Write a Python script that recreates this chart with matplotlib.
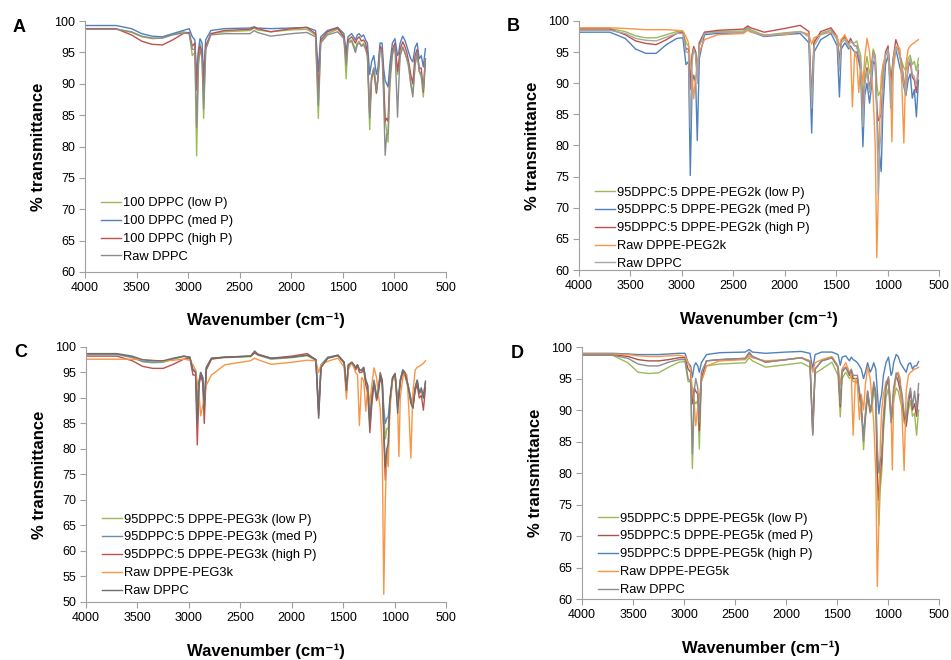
import matplotlib
matplotlib.use("Agg")
import matplotlib.pyplot as plt

plt.rcParams['font.family'] = ['Liberation Sans', 'DejaVu Sans']

# shared wavenumber grid (cm-1), descending
wn = [4000, 3700, 3550, 3450, 3350, 3250, 3150, 3050, 2990, 2960,
      2935, 2918, 2900, 2885, 2865, 2850, 2830, 2780, 2650, 2400,
      2360, 2330, 2200, 2000, 1850, 1765, 1738, 1715, 1650, 1550,
      1490, 1468, 1450, 1415, 1378, 1360, 1342, 1320, 1300, 1280,
      1262, 1240, 1222, 1200, 1175, 1160, 1140, 1120, 1105, 1090,
      1075, 1062, 1045, 1020, 995, 970, 958, 945, 920, 900,
      880, 862, 842, 822, 800, 780, 760, 740, 720, 700]

# ---- panel A: 100 DPPC ----
a_low = [98.8, 98.8, 98.2, 97.5, 97.2, 97.3, 97.9, 98.3, 98.1, 94.5,
         95.0, 78.5, 93.0, 96.5, 94.0, 84.5, 95.5, 98.0, 98.3, 98.5,
         98.9, 98.6, 98.3, 98.6, 98.7, 97.8, 84.5, 96.8, 98.0, 98.7,
         97.5, 90.8, 96.8, 97.0, 95.5, 96.5, 96.8, 96.0, 96.5, 95.8,
         94.5, 82.7, 90.5, 92.0, 88.6, 90.5, 95.5, 95.0, 91.0, 84.0,
         82.5, 80.7, 89.5, 94.5, 95.8, 91.5, 92.5, 94.5, 95.8, 95.0,
         94.0, 92.5, 90.0, 88.5, 93.0, 95.0, 92.0, 91.0, 87.9, 93.5]
a_med = [99.3, 99.3, 98.8, 98.0, 97.6, 97.5, 98.0, 98.5, 98.8, 97.5,
         97.0, 91.0, 95.5, 97.2, 96.5, 91.0, 97.0, 98.5, 98.8, 98.9,
         99.1, 98.9, 98.8, 98.9, 99.0, 98.5, 92.0, 97.5, 98.5, 99.0,
         98.0, 95.0, 97.5, 98.0, 97.0, 97.8, 98.0, 97.5, 97.8, 97.0,
         96.5, 91.5, 93.5, 94.5, 91.5, 92.5, 96.5, 96.5, 92.5, 90.5,
         90.0, 89.5, 93.0, 96.5, 97.2, 94.5, 95.0, 96.5, 97.6, 97.0,
         96.0, 95.0, 94.0, 93.5, 95.8, 96.5, 94.0, 94.5, 92.7, 95.6]
a_high = [98.8, 98.8, 97.8, 96.8, 96.3, 96.2, 97.0, 98.0, 98.2, 96.0,
          96.5, 89.0, 95.0, 96.0, 95.0, 89.0, 96.0, 98.0, 98.5, 98.7,
          99.0, 98.8, 98.3, 98.8, 99.0, 98.0, 89.0, 97.0, 98.3, 98.9,
          97.5, 94.0, 97.0, 97.5, 96.5, 97.2, 97.5, 96.8, 97.0, 96.5,
          95.0, 85.2, 91.0, 92.5, 88.5, 91.0, 96.0, 95.5, 90.0, 84.0,
          84.5, 84.0, 91.0, 95.5, 96.5, 92.0, 93.5, 95.5, 96.7, 96.0,
          95.0, 93.5, 91.5, 90.0, 94.5, 95.5, 92.5, 92.5, 88.7, 94.0]
a_raw = [98.7, 98.7, 98.3, 97.6, 97.3, 97.3, 97.8, 98.1, 98.0, 95.5,
         95.5, 83.0, 93.5, 95.5, 94.0, 86.0, 95.5, 97.8, 98.0, 98.0,
         98.5, 98.2, 97.6, 98.0, 98.2, 97.5, 86.5, 96.5, 97.8, 98.3,
         97.2, 93.0, 96.5, 96.8, 95.0, 96.3, 96.5, 96.0, 96.3, 95.5,
         94.5, 84.5, 91.0, 92.5, 89.0, 91.0, 95.5, 95.0, 88.0, 78.6,
         82.0, 82.0, 91.0, 95.0, 96.0, 84.7, 90.0, 94.5, 95.9, 95.0,
         94.0, 93.0, 90.0, 87.9, 93.0, 95.0, 92.0, 91.5, 89.0, 94.0]

# ---- panel B: 95DPPC:5 DPPE-PEG2k ----
b_low = [98.8, 98.8, 98.3, 97.6, 97.3, 97.3, 97.8, 98.3, 98.3, 96.5,
         96.0, 90.0, 94.5, 95.8, 95.0, 91.0, 96.5, 98.2, 98.3, 98.4,
         99.0, 98.6, 97.7, 98.1, 98.3, 97.8, 88.0, 96.8, 98.0, 98.6,
         97.3, 93.5, 96.8, 97.3, 96.3, 97.0, 96.5, 96.5, 96.8, 95.5,
         94.5, 87.0, 92.0, 94.3, 91.5, 92.5, 95.5, 94.5, 90.0, 88.0,
         88.5, 89.2, 92.0, 94.5, 95.5, 91.0, 92.0, 94.0, 95.8, 95.5,
         94.5, 93.5, 92.5, 92.0, 94.0, 94.5, 93.0, 93.5, 92.0, 94.0]
b_med = [98.2, 98.2, 97.2, 95.5, 94.8, 94.8, 96.2, 97.2, 97.3, 93.0,
         93.5, 75.2, 90.0, 91.3, 90.0, 80.8, 94.0, 97.8, 98.0, 98.1,
         98.8, 98.3, 97.5, 97.8, 98.0, 96.5, 82.0, 95.0, 97.0, 98.0,
         96.0, 87.8, 95.5, 96.5, 95.5, 96.0, 95.5, 95.0, 95.0, 93.5,
         92.0, 79.8, 88.0, 90.0, 86.8, 89.0, 93.5, 93.0, 86.0, 80.0,
         78.0, 75.8, 86.0, 93.0, 94.5, 89.0, 91.0, 93.0, 95.5, 94.0,
         92.5, 91.5, 89.5, 88.0, 90.5, 91.5, 87.6, 89.0, 84.6, 90.5]
b_high = [98.7, 98.7, 97.8, 96.8, 96.4, 96.2, 97.0, 98.0, 98.2, 95.5,
          95.5, 89.0, 94.5, 95.9, 95.0, 91.0, 96.5, 98.2, 98.5, 98.7,
          99.2, 98.9, 98.2, 98.8, 99.3, 98.3, 87.0, 96.5, 98.3, 98.9,
          97.5, 93.0, 97.0, 97.5, 96.5, 97.2, 96.5, 96.0, 96.0, 94.5,
          93.0, 85.0, 90.0, 92.5, 89.0, 91.0, 95.0, 94.0, 86.0, 84.0,
          84.5, 85.0, 90.0, 95.0, 96.0, 90.0, 91.5, 94.0, 97.0, 96.0,
          94.5, 93.0, 90.5, 89.0, 92.5, 93.5, 91.0, 90.5, 88.5, 92.0]
b_peg = [98.9, 98.9, 98.8, 98.7, 98.6, 98.6, 98.6, 98.5, 98.4, 97.5,
         96.5, 93.5, 91.5, 87.5, 91.0, 93.0, 95.0, 97.0, 97.8, 98.0,
         98.5, 98.2, 97.8, 97.8, 98.3, 97.8, 96.3, 97.3, 97.8, 98.2,
         97.5, 96.0, 97.0, 97.8, 96.0, 95.5, 86.2, 95.0, 94.0, 88.5,
         93.0, 90.0, 94.0, 97.2, 95.0, 92.0, 88.0, 80.0, 62.0, 72.0,
         85.0, 91.0, 93.0, 94.5, 95.0, 90.0, 80.6, 92.0, 95.5, 96.0,
         95.5, 90.0, 80.4, 93.0, 95.5, 96.0, 96.3, 96.5, 96.8, 97.0]
b_raw = [98.5, 98.5, 98.0, 97.2, 96.9, 96.8, 97.4, 98.0, 98.0, 95.0,
         95.0, 83.0, 93.5, 95.5, 94.5, 90.0, 96.0, 98.0, 98.2, 98.2,
         98.8, 98.4, 97.6, 98.0, 98.3, 97.5, 86.0, 96.0, 97.8, 98.5,
         97.0, 92.0, 96.5, 97.0, 96.0, 96.8, 96.5, 96.0, 96.0, 94.5,
         93.5, 83.0, 90.0, 92.0, 88.5, 90.5, 95.0, 94.0, 85.0, 72.0,
         80.0, 82.0, 90.0, 94.5, 95.5, 86.0, 90.0, 94.0, 96.0, 95.5,
         94.0, 93.0, 90.0, 88.5, 93.0, 94.0, 91.5, 91.0, 89.5, 93.0]

# ---- panel C: 95DPPC:5 DPPE-PEG3k ----
c_low = [98.5, 98.5, 97.9, 97.1, 96.9, 97.0, 97.6, 98.1, 97.9, 95.3,
         95.3, 88.5, 93.3, 94.8, 93.8, 88.5, 95.8, 97.7, 97.9, 98.1,
         98.9, 98.4, 97.6, 97.9, 98.3, 97.4, 87.5, 96.4, 97.9, 98.3,
         96.9, 91.5, 96.4, 96.9, 95.8, 96.4, 95.4, 95.3, 95.8, 93.3,
         92.3, 85.5, 90.3, 93.3, 90.3, 91.3, 94.3, 93.3, 87.0, 82.0,
         84.0, 84.0, 89.5, 93.8, 94.6, 89.0, 90.5, 93.3, 95.3, 94.8,
         93.3, 91.8, 89.5, 88.3, 91.8, 93.3, 90.8, 91.3, 90.0, 92.8]
c_med = [98.6, 98.6, 98.0, 97.2, 97.0, 97.1, 97.7, 98.2, 98.0, 95.5,
         95.5, 89.5, 93.5, 95.0, 94.0, 89.0, 96.0, 97.8, 98.0, 98.2,
         99.0, 98.5, 97.7, 98.0, 98.4, 97.5, 88.0, 96.5, 98.0, 98.4,
         97.0, 92.0, 96.5, 97.0, 96.0, 96.5, 95.5, 95.5, 96.0, 93.5,
         92.5, 86.0, 90.5, 93.5, 90.5, 91.5, 94.5, 93.5, 88.0, 85.0,
         86.0, 86.3, 90.0, 94.0, 94.8, 89.5, 91.0, 93.5, 95.5, 95.0,
         93.5, 92.0, 90.0, 88.5, 92.0, 93.5, 91.0, 91.5, 90.5, 93.0]
c_high = [98.2, 98.2, 97.3, 96.2, 95.8, 95.8, 96.6, 97.6, 97.8, 94.5,
          94.5, 80.8, 92.5, 94.5, 93.0, 85.0, 95.5, 97.6, 98.0, 98.2,
          98.8, 98.5, 97.8, 98.2, 98.7, 97.5, 86.5, 96.0, 97.8, 98.3,
          96.8, 91.0, 96.0, 96.8, 95.5, 96.3, 95.0, 95.0, 95.5, 92.5,
          91.0, 83.2, 88.5, 93.0, 89.5, 90.5, 94.0, 92.5, 82.0, 73.9,
          78.0, 80.0, 89.0, 93.5, 94.5, 88.5, 90.0, 93.0, 95.0, 94.5,
          93.0, 91.5, 89.5, 88.0, 91.5, 92.5, 90.0, 90.5, 87.6, 92.0]
c_peg = [97.6, 97.6, 97.6, 97.5, 97.4, 97.2, 97.4, 97.6, 97.4, 96.5,
         95.5, 93.0, 90.5, 86.5, 88.5, 90.0, 92.5, 94.5, 96.5, 97.3,
         97.8, 97.5, 96.6, 97.0, 97.4, 97.3, 95.0, 96.5, 97.2, 97.8,
         96.0, 89.8, 95.5, 97.0, 95.0, 94.5, 84.6, 94.0, 93.5, 87.4,
         92.0, 89.0, 92.5, 95.9, 94.0, 91.0, 88.0, 80.0, 51.5, 70.0,
         80.0, 76.5, 88.0, 93.5, 94.0, 88.0, 78.5, 90.0, 94.0, 95.0,
         94.5, 88.0, 78.2, 91.0, 95.5, 96.0, 96.2, 96.5, 96.8, 97.3]
c_raw = [98.7, 98.7, 98.2, 97.5, 97.3, 97.3, 97.8, 98.2, 98.0, 95.5,
         95.0, 85.0, 93.0, 95.0, 94.0, 88.0, 96.0, 97.8, 98.0, 98.2,
         99.2, 98.6, 97.8, 98.0, 98.4, 97.5, 86.0, 96.0, 97.8, 98.4,
         97.0, 91.5, 96.5, 97.0, 96.0, 96.5, 95.5, 95.5, 96.0, 93.5,
         92.5, 84.5, 89.5, 93.0, 90.0, 91.0, 95.0, 93.5, 84.0, 76.5,
         80.0, 81.0, 89.5, 94.0, 94.8, 87.0, 90.5, 93.5, 95.5, 95.0,
         93.5, 91.5, 89.0, 88.0, 92.0, 93.5, 91.0, 92.0, 90.0, 93.3]

# ---- panel D: 95DPPC:5 DPPE-PEG5k ----
d_low = [98.7, 98.7, 97.5, 96.0, 95.8, 95.9, 96.8, 97.6, 97.7, 94.5,
         94.5, 80.7, 91.5, 91.0, 91.5, 83.8, 94.5, 97.0, 97.3, 97.5,
         98.3, 97.8, 96.8, 97.2, 97.5, 96.8, 87.0, 95.8, 96.5, 97.6,
         95.5, 88.9, 95.0, 96.0, 95.0, 95.5, 94.5, 94.5, 94.5, 92.5,
         90.0, 83.7, 88.5, 92.0, 89.5, 90.0, 93.0, 91.5, 78.0, 71.7,
         77.8, 80.0, 86.5, 92.0, 93.5, 88.0, 89.0, 91.5, 93.5, 93.0,
         91.5, 90.5, 88.0, 87.5, 90.0, 91.5, 89.0, 89.5, 86.0, 90.0]
d_med = [98.8, 98.8, 98.5, 98.0, 97.8, 97.8, 98.0, 98.3, 98.3, 96.5,
         96.0, 91.0, 93.5, 93.0, 92.5, 86.7, 95.0, 97.8, 98.0, 98.2,
         99.0, 98.5, 97.6, 98.0, 98.3, 97.8, 86.2, 96.5, 97.8, 98.3,
         96.8, 90.5, 96.0, 96.8, 95.5, 96.3, 95.0, 95.0, 95.0, 92.5,
         90.0, 86.0, 89.0, 93.0, 89.8, 91.0, 94.0, 92.5, 80.0, 75.7,
         80.0, 82.0, 88.0, 93.5, 95.0, 89.0, 90.0, 93.0, 95.5, 94.5,
         93.0, 91.0, 89.0, 87.4, 91.0, 93.0, 90.0, 91.0, 89.0, 92.5]
d_high = [99.0, 99.0, 98.9, 98.8, 98.8, 98.8, 98.9, 99.0, 99.0, 97.5,
          97.0, 95.2, 97.0, 97.5, 97.0, 96.0, 97.5, 98.8, 99.1, 99.2,
          99.6, 99.2, 99.0, 99.2, 99.3, 99.0, 96.5, 98.8, 99.2, 99.2,
          98.8, 97.1, 98.4, 98.6, 97.8, 98.4, 98.0, 97.8, 97.5, 97.0,
          96.5, 95.0, 96.0, 97.5, 96.0, 96.5, 97.5, 96.5, 93.0, 89.4,
          91.5, 92.5, 95.5, 97.5, 98.4, 95.5, 96.0, 97.5, 98.8, 98.5,
          97.5, 97.0, 96.5, 96.0, 97.3, 97.5, 96.5, 97.0, 97.0, 97.7]
d_peg = [98.9, 98.9, 98.8, 98.6, 98.5, 98.5, 98.6, 98.7, 98.5, 97.5,
         96.5, 93.0, 91.0, 87.5, 90.5, 92.0, 94.5, 97.0, 97.8, 98.0,
         98.6, 98.3, 97.8, 98.0, 98.3, 97.8, 96.0, 97.5, 98.0, 98.5,
         97.0, 94.0, 96.5, 97.5, 96.0, 95.5, 86.0, 95.0, 94.0, 88.5,
         92.5, 90.0, 94.0, 96.8, 95.0, 92.0, 88.0, 80.0, 62.0, 72.0,
         85.0, 90.0, 92.5, 94.5, 95.0, 90.0, 80.5, 92.0, 95.5, 96.0,
         95.0, 89.0, 80.4, 93.0, 95.5, 96.0, 96.2, 96.5, 96.6, 96.8]
d_raw = [98.7, 98.7, 98.2, 97.3, 97.0, 97.0, 97.6, 98.0, 98.0, 95.0,
         94.5, 83.0, 93.0, 95.0, 93.5, 88.0, 96.0, 97.8, 98.0, 98.2,
         99.2, 98.5, 97.6, 98.0, 98.3, 97.6, 86.0, 96.5, 97.8, 98.3,
         96.8, 91.0, 96.3, 96.8, 95.8, 96.5, 95.5, 95.5, 95.5, 93.0,
         91.0, 85.0, 89.5, 93.0, 90.0, 91.0, 94.5, 93.0, 84.0, 80.0,
         82.0, 83.0, 89.0, 94.0, 95.3, 88.0, 90.5, 93.5, 95.9, 95.5,
         94.0, 92.5, 89.5, 88.5, 92.0, 93.5, 90.5, 93.0, 90.0, 94.2]

GREEN = '#9bbb59'
BLUE = '#4f81bd'
RED = '#c0504d'
ORANGE = '#f79646'
GRAY = '#8c8c8c'

# letter, axes rect, y range, legend y offset, series
panels = [
    ('A', [0.0894, 0.588, 0.3796, 0.380], (60, 100), 0.0, [
        ('100 DPPC (low P)', a_low, GREEN),
        ('100 DPPC (med P)', a_med, BLUE),
        ('100 DPPC (high P)', a_high, RED),
        ('Raw DPPC', a_raw, GRAY)]),
    ('B', [0.6088, 0.5909, 0.3786, 0.3773], (60, 100), -0.036, [
        ('95DPPC:5 DPPE-PEG2k (low P)', b_low, GREEN),
        ('95DPPC:5 DPPE-PEG2k (med P)', b_med, BLUE),
        ('95DPPC:5 DPPE-PEG2k (high P)', b_high, RED),
        ('Raw DPPE-PEG2k', b_peg, ORANGE),
        ('Raw DPPC', b_raw, '#a6a6a6')]),
    ('C', [0.0904, 0.0879, 0.3786, 0.3864], (50, 100), -0.016, [
        ('95DPPC:5 DPPE-PEG3k (low P)', c_low, GREEN),
        ('95DPPC:5 DPPE-PEG3k (med P)', c_med, '#6a8db3'),
        ('95DPPC:5 DPPE-PEG3k (high P)', c_high, RED),
        ('Raw DPPE-PEG3k', c_peg, ORANGE),
        ('Raw DPPC', c_raw, '#6e6e6e')]),
    ('D', [0.612, 0.0924, 0.3754, 0.3818], (60, 100), -0.024, [
        ('95DPPC:5 DPPE-PEG5k (low P)', d_low, GREEN),
        ('95DPPC:5 DPPE-PEG5k (med P)', d_med, '#a8514e'),
        ('95DPPC:5 DPPE-PEG5k (high P)', d_high, BLUE),
        ('Raw DPPE-PEG5k', d_peg, ORANGE),
        ('Raw DPPC', d_raw, GRAY)]),
]

fig = plt.figure(figsize=(9.51, 6.60), dpi=100)

for letter, rect, ylim, leg_dy, series in panels:
    ax = fig.add_axes(rect)
    for label, vals, color in series:
        ax.plot(wn, vals, color=color, lw=1.0, label=label)
    ax.set_xlim(4000, 500)
    ax.set_ylim(*ylim)
    ax.set_xticks(range(4000, 499, -500))
    ax.set_yticks(range(ylim[0], 101, 5))
    for side in ('top', 'right'):
        ax.spines[side].set_visible(False)
    for side in ('left', 'bottom'):
        ax.spines[side].set_color('#a0a0a0')
        ax.spines[side].set_linewidth(0.8)
    ax.tick_params(axis='both', labelsize=9, color='#a0a0a0', length=4, width=0.8, pad=3)
    ax.set_xlabel('Wavenumber (cm\u207b\u00b9)', fontsize=12, fontweight='bold', labelpad=14)
    ax.set_ylabel('% transmittance', fontsize=12, fontweight='bold', labelpad=6)
    ax.text(-0.2, 1.01, letter, transform=ax.transAxes, fontsize=13, fontweight='bold',
            ha='left', va='top')
    ax.legend(loc='lower left', bbox_to_anchor=(0.02, leg_dy), frameon=False, fontsize=9.3,
              handlelength=1.5, handletextpad=0.15, labelspacing=0.45, borderaxespad=0.3)

fig.savefig('out.png', dpi=100)
